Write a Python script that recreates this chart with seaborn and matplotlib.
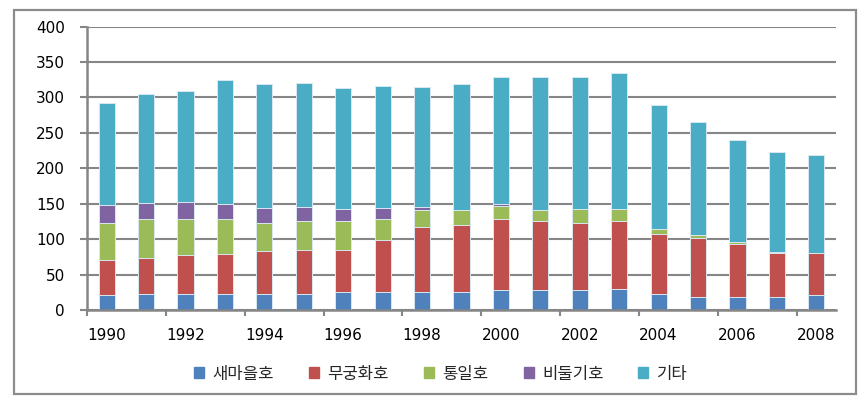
import numpy as np
import pandas as pd
import matplotlib
matplotlib.use("Agg")
import matplotlib.pyplot as plt
import matplotlib.patches as mpatches
import seaborn as sns

years = [str(y) for y in range(1990, 2009)]
saemaeul = [21, 23, 23, 23, 23, 23, 25, 25, 26, 26, 28, 28, 28, 29, 23, 18, 18, 18, 21]
mugunghwa = [49, 51, 54, 56, 60, 62, 60, 74, 91, 94, 101, 97, 95, 96, 84, 84, 75, 62, 59]
tongil = [53, 54, 52, 49, 40, 40, 40, 30, 24, 21, 18, 16, 19, 17, 7, 3.5, 3.5, 2.5, 1]
bidulgi = [25, 23, 24, 22, 21, 20, 18, 15, 4.5, 0, 2, 0, 0, 0, 0, 0, 0, 0, 0]
gita = [144, 154, 156, 175, 175, 176, 170, 172, 169, 178, 180, 188, 187, 193, 175, 160, 144, 141, 138]

series_names = ["새마을호", "무궁화호", "통일호", "비둘기호", "기타"]
series_vals = [saemaeul, mugunghwa, tongil, bidulgi, gita]
colors = ["#4F81BD", "#C0504D", "#9BBB59", "#8064A2", "#4BACC6"]
y_ticks = [0, 50, 100, 150, 200, 250, 300, 350, 400]

sns.set_theme(style="white")
plt.rcParams['font.family'] = ['DejaVu Sans', 'Noto Sans CJK KR']

W, H = 865, 405
fig = plt.figure(figsize=(W / 100, H / 100), dpi=100)
ax = fig.add_axes([87 / W, 1 - 310 / H, (836 - 87) / W, (310 - 26.6) / H])

# outer frame
frame = mpatches.Rectangle((14 / W, 1 - 394 / H), (856 - 14) / W, (394 - 10) / H,
                           transform=fig.transFigure, fill=False,
                           edgecolor="#8c8c8c", lw=1.6, zorder=0)
fig.patches.append(frame)

df = pd.DataFrame({"year": years})
cum = np.zeros(len(years))
cums = []
for v in series_vals:
    cum = cum + np.array(v, dtype=float)
    cums.append(cum.copy())

ax.set_axisbelow(True)
for i in range(len(series_vals) - 1, -1, -1):
    df["val"] = cums[i]
    sns.barplot(data=df, x="year", y="val", color=colors[i], width=0.41,
                edgecolor="#d9e8f0", linewidth=0.7, saturation=1, ax=ax,
                errorbar=None)

ax.set_ylim(0, 400)
ax.set_xlim(-0.5, 18.5)
ax.set_yticks(y_ticks)
ax.set_yticklabels([str(t) for t in y_ticks])
ax.yaxis.grid(True, color="#868686", lw=1.5)
ax.xaxis.grid(False)

ax.set_xticks(np.arange(-0.5, 18, 2))
ax.set_xticklabels([])
ax.set_xticks(np.arange(0, 19, 2), minor=True)
ax.set_xticklabels([years[i] for i in range(0, 19, 2)], minor=True)
ax.tick_params(axis="x", which="major", length=4, width=1.5, color="#868686", bottom=True)
ax.tick_params(axis="x", which="minor", length=0, pad=13, labelsize=11, labelcolor="black")
ax.tick_params(axis="y", length=5, width=1.5, color="#868686", left=True, pad=11,
               labelsize=11, labelcolor="black")

ax.set_xlabel("")
ax.set_ylabel("")
for s in ["top", "right"]:
    ax.spines[s].set_visible(False)
for s in ["left", "bottom"]:
    ax.spines[s].set_color("#868686")
    ax.spines[s].set_linewidth(1.8)

handles = [mpatches.Patch(color=c, label=n) for c, n in zip(colors, series_names)]
leg = fig.legend(handles=handles, loc="center", bbox_to_anchor=(441 / W, 1 - 374 / H),
                 ncol=5, frameon=False, handlelength=0.6, handleheight=0.6,
                 handletextpad=0.5, columnspacing=2.1,
                 prop={"family": ["Noto Sans CJK KR", "DejaVu Sans"], "size": 12})

fig.savefig("out.png", dpi=100)
